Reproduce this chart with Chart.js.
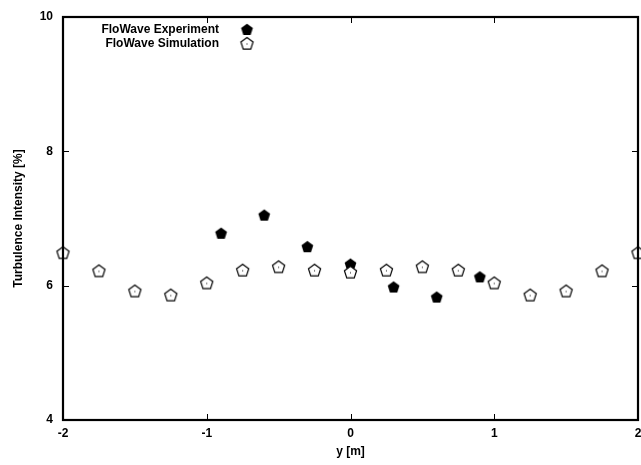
<!DOCTYPE html>
<html>
<head>
<meta charset="utf-8">
<script src="https://cdn.jsdelivr.net/npm/chart.js@4"></script>
<style>
html,body{margin:0;padding:0;background:#fff;}
#wrap{width:641px;height:465px;position:relative;}
</style>
</head>
<body>
<div id="wrap"><canvas id="c" width="641" height="465"></canvas></div>
<script>
// ---- data ----
const seriesNames = ["FloWave Experiment", "FloWave Simulation"];
const expY = [-0.9, -0.6, -0.3, 0.0, 0.3, 0.6, 0.9];
const expTI = [6.78, 7.05, 6.58, 6.32, 5.98, 5.83, 6.13];
const simY = [-2, -1.75, -1.5, -1.25, -1, -0.75, -0.5, -0.25, 0, 0.25, 0.5, 0.75, 1, 1.25, 1.5, 1.75, 2];
const simTI = [6.49, 6.22, 5.92, 5.86, 6.04, 6.23, 6.28, 6.23, 6.20, 6.23, 6.28, 6.23, 6.04, 5.86, 5.92, 6.22, 6.49];
const xTicks = [-2, -1, 0, 1, 2];
const yTicks = [4, 6, 8, 10];
const xTitle = "y [m]";
const yTitle = "Turbulence Intensity [%]";

const FONT = "'Liberation Sans', Arial, Helvetica, sans-serif";

function pentagonPath(ctx, cx, cy, r) {
  ctx.beginPath();
  for (let i = 0; i < 5; i++) {
    const a = -Math.PI / 2 + i * 2 * Math.PI / 5;
    const x = cx + r * Math.cos(a), y = cy + r * Math.sin(a);
    if (i === 0) ctx.moveTo(x, y); else ctx.lineTo(x, y);
  }
  ctx.closePath();
}
function makeMarker(filled) {
  const c = document.createElement('canvas');
  c.width = 17; c.height = 17;
  const ctx = c.getContext('2d');
  if (filled) {
    pentagonPath(ctx, 8.5, 9, 6.2);
    ctx.fillStyle = '#000'; ctx.fill();
  } else {
    pentagonPath(ctx, 8.5, 9, 6.4);
    ctx.fillStyle = '#fff'; ctx.fill();
    ctx.strokeStyle = '#000'; ctx.lineWidth = 1.2; ctx.stroke();
    ctx.fillStyle = '#000'; ctx.fillRect(8, 8.5, 1, 1);
  }
  return c;
}
const filledMarker = makeMarker(true);
const hollowMarker = makeMarker(false);

const framePlugin = {
  id: 'frame',
  afterDraw(chart) {
    const ctx = chart.ctx, a = chart.chartArea;
    const xs = chart.scales.x, ys = chart.scales.y;
    ctx.save();
    ctx.strokeStyle = '#000';
    ctx.lineWidth = 1;
    ctx.beginPath();
    xTicks.forEach(v => {
      const px = Math.round(xs.getPixelForValue(v)) + 0.5;
      if (v === xTicks[0] || v === xTicks[xTicks.length - 1]) return;
      ctx.moveTo(px, a.bottom); ctx.lineTo(px, a.bottom - 6);
      ctx.moveTo(px, a.top); ctx.lineTo(px, a.top + 6);
    });
    yTicks.forEach(v => {
      const py = Math.round(ys.getPixelForValue(v)) + 0.5;
      if (v === yTicks[0] || v === yTicks[yTicks.length - 1]) return;
      ctx.moveTo(a.left, py); ctx.lineTo(a.left + 6, py);
      ctx.moveTo(a.right, py); ctx.lineTo(a.right - 6, py);
    });
    ctx.stroke();
    ctx.lineWidth = 2.2;
    ctx.strokeRect(a.left, a.top, a.right - a.left, a.bottom - a.top);
    // legend
    ctx.font = "bold 12px " + FONT;
    ctx.fillStyle = '#000';
    ctx.textAlign = 'right';
    ctx.textBaseline = 'middle';
    ctx.fillText(seriesNames[0], 219, 30);
    ctx.fillText(seriesNames[1], 219, 44);
    ctx.drawImage(filledMarker, 247 - 8.5, 30 - 9);
    ctx.drawImage(hollowMarker, 247 - 8.5, 44 - 9);
    ctx.restore();
  }
};

new Chart(document.getElementById('c'), {
  type: 'scatter',
  data: {
    datasets: [
      {
        label: seriesNames[1],
        data: simY.map((x, i) => ({x: x, y: simTI[i]})),
        pointStyle: hollowMarker,
        pointRadius: 7,
        borderColor: '#000',
        backgroundColor: '#fff'
      },
      {
        label: seriesNames[0],
        data: expY.map((x, i) => ({x: x, y: expTI[i]})),
        pointStyle: filledMarker,
        pointRadius: 7,
        borderColor: '#000',
        backgroundColor: '#000'
      }
    ]
  },
  options: {
    responsive: false,
    animation: false,
    clip: false,
    layout: {autoPadding: false, padding: {top: 17, right: 3, left: 0, bottom: 0}},
    plugins: {legend: {display: false}, tooltip: {enabled: false}},
    scales: {
      x: {
        type: 'linear', min: -2, max: 2,
        afterBuildTicks: s => { s.ticks = xTicks.map(v => ({value: v})); },
        afterFit: s => { s.height = 45; s.paddingLeft = 0; s.paddingRight = 0; },
        grid: {display: false, drawTicks: false},
        border: {display: false},
        ticks: {color: '#000', font: {family: FONT, size: 12, weight: 'bold'}, padding: 6, maxRotation: 0},
        title: {display: true, text: xTitle, color: '#000', font: {family: FONT, size: 12, weight: 'bold'}, padding: {top: 2, bottom: 6}}
      },
      y: {
        type: 'linear', min: 4, max: 10,
        afterBuildTicks: s => { s.ticks = yTicks.map(v => ({value: v})); },
        afterFit: s => { s.width = 63; s.paddingTop = 0; s.paddingBottom = 0; },
        grid: {display: false, drawTicks: false},
        border: {display: false},
        ticks: {color: '#000', font: {family: FONT, size: 12, weight: 'bold'}, padding: 10},
        title: {display: true, text: yTitle, color: '#000', font: {family: FONT, size: 12, weight: 'bold'}, padding: {top: 11, bottom: 0}}
      }
    }
  },
  plugins: [framePlugin]
});
</script>
</body>
</html>
